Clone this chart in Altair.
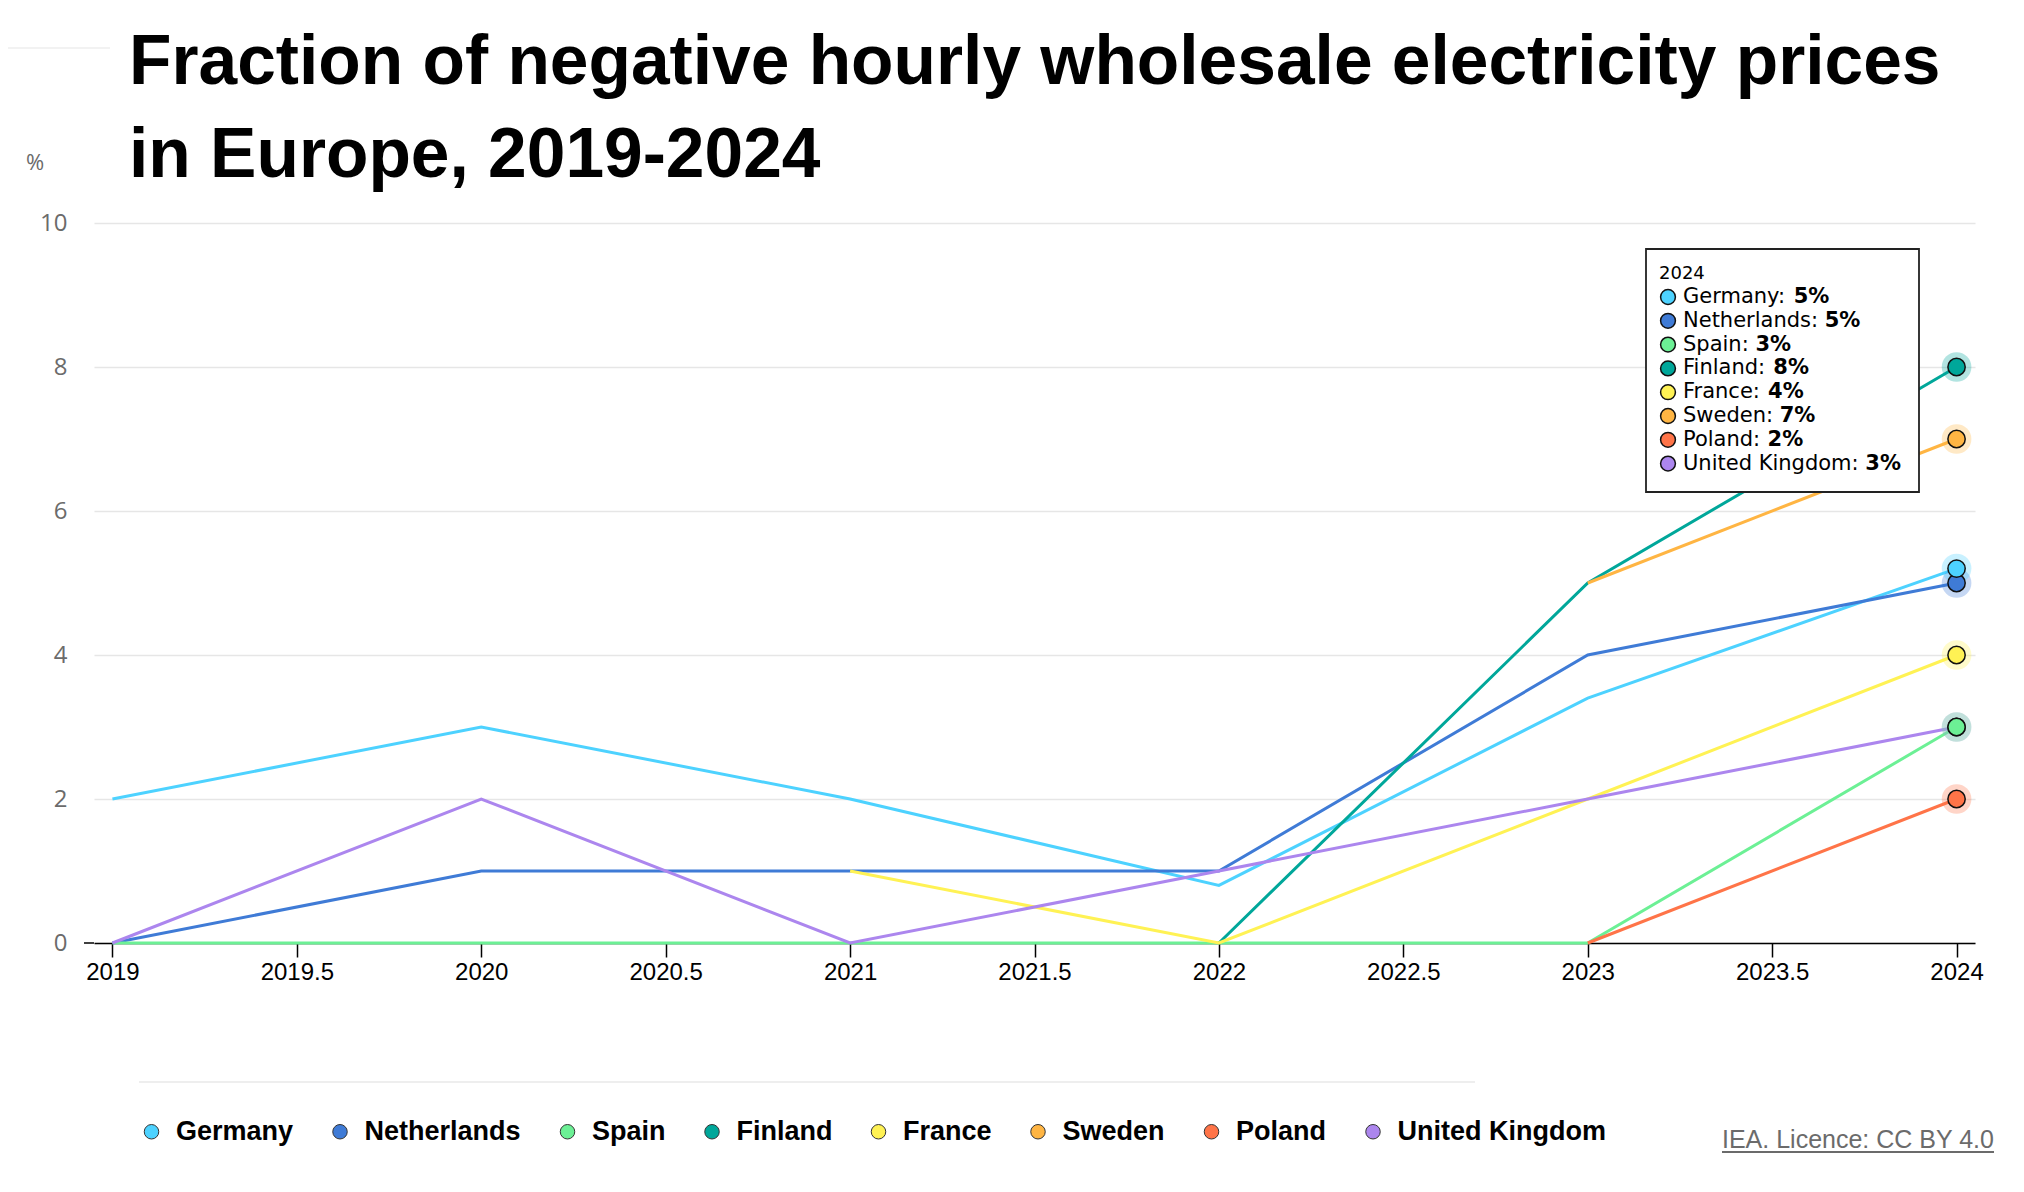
import altair as alt
import pandas as pd

# ---------------- data ----------------
YEARS = [2019, 2020, 2021, 2022, 2023, 2024]
COUNTRIES = ["Germany", "Netherlands", "Spain", "Finland", "France", "Sweden", "Poland", "United Kingdom"]
COLORS = ["#4dd2ff", "#3f7bd6", "#6cf095", "#00a79a", "#fff254", "#ffb543", "#ff7448", "#ac86ee"]

GERMANY = [2, 3, 2, 0.8, 3.4, 5.2]
NETHERLANDS = [0, 1, 1, 1, 4, 5]
SPAIN = [0, 0, 0, 0, 0, 3]
FINLAND = [None, None, None, 0, 5, 8]
FRANCE = [None, None, 1, 0, 2, 4]
SWEDEN = [None, None, None, None, 5, 7]
POLAND = [None, None, None, None, 0, 2]
UNITED_KINGDOM = [0, 2, 0, 1, 2, 3]

SERIES = [GERMANY, NETHERLANDS, SPAIN, FINLAND, FRANCE, SWEDEN, POLAND, UNITED_KINGDOM]

TITLE = ["Fraction of negative hourly wholesale electricity prices", "in Europe, 2019-2024"]
X_TICKS = [2019, 2019.5, 2020, 2020.5, 2021, 2021.5, 2022, 2022.5, 2023, 2023.5, 2024]
Y_TICKS = [0, 2, 4, 6, 8, 10]
SOURCE = "IEA. Licence: CC BY 4.0"

# ---------------- tables ----------------
rows = []
for c, vals in zip(COUNTRIES, SERIES):
    for y, v in zip(YEARS, vals):
        if v is not None:
            rows.append({"country": c, "year": y, "value": v})
df = pd.DataFrame(rows)

last = pd.DataFrame({"country": COUNTRIES, "value": [s[-1] for s in SERIES], "year": YEARS[-1]})
last_rev = last.iloc[::-1].reset_index(drop=True)

# DejaVu Sans advance widths (units / 2048) for tooltip layout
DJV = {"G": 1587, "e": 1260, "r": 842, "m": 1995, "a": 1255, "n": 1298, "y": 1212, ":": 690, " ": 651,
       "N": 1532, "t": 803, "h": 1298, "l": 569, "d": 1300, "s": 1067, "S": 1300, "p": 1300, "i": 569,
       "F": 1178, "c": 1126, "w": 1675, "P": 1235, "o": 1253, "U": 1499, "K": 1343, "g": 1300}
TIP_FS = 21
TIP_TEXT_X = 1589


def text_w(s, fs):
    return sum(DJV.get(ch, 1250) for ch in s) / 2048 * fs


tip = pd.DataFrame({
    "country": COUNTRIES,
    "idx": list(range(len(COUNTRIES))),
    "name": [c + ": " for c in COUNTRIES],
    "val": ["%d%%" % round(s[-1]) for s in SERIES],
})
tip["bx"] = [TIP_TEXT_X + text_w(n, TIP_FS) for n in tip["name"]]

one = pd.DataFrame({"t": [str(YEARS[-1])]})

# ---------------- scales ----------------
xs = alt.Scale(domain=[2018.95, 2024.05], nice=False, zero=False)
ys = alt.Scale(domain=[0, 10], nice=False)
# legend scale (fill) and drawing scale (stroke / color) kept separate so legends do not merge
fill_scale = alt.Scale(domain=COUNTRIES, range=COLORS)
draw_scale = alt.Scale(domain=COUNTRIES[::-1], range=COLORS[::-1])

x_axis = alt.Axis(values=X_TICKS, labelExpr="'' + datum.value", title=None, grid=False,
                  domainColor="#000", domainWidth=1.5, tickColor="#000", tickWidth=1.5, tickSize=14,
                  labelFont="Liberation Sans", labelFontSize=24, labelColor="#000", labelPadding=3)
y_axis = alt.Axis(values=Y_TICKS, format="d", title=None, domain=False, ticks=False, grid=True,
                  gridColor="#e6e6e6", gridWidth=1.5, labelFont="Open Sans", labelFontSize=24,
                  labelColor="#6b6b6b", labelPadding=27)

lines = alt.Chart(df).mark_line(strokeWidth=3).encode(
    x=alt.X("year:Q", scale=xs, axis=x_axis),
    y=alt.Y("value:Q", scale=ys, axis=y_axis),
    stroke=alt.Stroke("country:N", scale=draw_scale, legend=None),
    detail="country:N",
)

halo = alt.Chart(last_rev).mark_point(filled=True, opacity=0.3, size=880, strokeWidth=0).encode(
    x=alt.X("year:Q", scale=xs),
    y=alt.Y("value:Q", scale=ys),
    color=alt.Color("country:N", scale=draw_scale, legend=None),
)

markers = alt.Chart(last_rev).mark_point(filled=True, opacity=1, size=300, stroke="#111", strokeWidth=1.5).encode(
    x=alt.X("year:Q", scale=xs),
    y=alt.Y("value:Q", scale=ys),
    fill=alt.Fill("country:N", scale=fill_scale, sort=COUNTRIES,
                  legend=alt.Legend(title=None, orient="none", direction="horizontal",
                                    legendX=44, legendY=895, symbolType="circle", symbolSize=210,
                                    symbolStrokeColor="#333", symbolStrokeWidth=1, symbolOpacity=1,
                                    labelFont="Liberation Sans", labelFontSize=27, labelFontWeight="bold",
                                    labelColor="#000", labelOffset=11, columnPadding=32.5, padding=0,
                                    labelLimit=400)),
)

main = alt.layer(lines, halo, markers)

# ---------------- annotations (title, tooltip, source, rules) ----------------
title = alt.Chart(one).mark_text(align="left", baseline="alphabetic", font="Liberation Sans", fontSize=69.5,
                                 fontWeight="bold", color="#000", lineHeight=93, text=TITLE).encode(
    x=alt.value(35), y=alt.value(-139))

box = alt.Chart(one).mark_rect(fill="white", stroke="#222", strokeWidth=1.8).encode(
    x=alt.value(1552), x2=alt.value(1825), y=alt.value(26), y2=alt.value(269))

header = alt.Chart(one).mark_text(align="left", baseline="middle", font="DejaVu Sans", fontSize=18,
                                  color="#000").encode(x=alt.value(1565), y=alt.value(51), text="t:N")

ty = alt.Y("idx:Q", scale=alt.Scale(domain=[0, 7], range=[74, 74 + 23.8 * 7]), axis=None)

tip_dots = alt.Chart(tip).mark_point(filled=True, opacity=1, size=220, stroke="#111", strokeWidth=1.5).encode(
    x=alt.value(1574), y=ty, color=alt.Color("country:N", scale=draw_scale, legend=None))

tip_names = alt.Chart(tip).mark_text(align="left", baseline="middle", font="DejaVu Sans", fontSize=TIP_FS,
                                     color="#000").encode(x=alt.value(TIP_TEXT_X), y=ty, text="name:N")

tip_vals = alt.Chart(tip).mark_text(align="left", baseline="middle", font="DejaVu Sans", fontSize=TIP_FS,
                                    fontWeight="bold", color="#000").encode(
    x=alt.X("bx:Q", scale=alt.Scale(domain=[0, 2000], range=[0, 2000]), axis=None), y=ty, text="val:N")

pct = alt.Chart(one).mark_text(align="left", baseline="middle", font="Open Sans", fontSize=22,
                               color="#6b6b6b", text="%").encode(x=alt.value(-68), y=alt.value(-60))

sep = alt.Chart(one).mark_rule(color="#e8e8e8", strokeWidth=1.5).encode(
    x=alt.value(45), x2=alt.value(1381), y=alt.value(859))
topline = alt.Chart(one).mark_rule(color="#eeeeee", strokeWidth=1.5).encode(
    x=alt.value(-94), x2=alt.value(16), y=alt.value(-175))
axis_ext = alt.Chart(one).mark_rule(color="#000", strokeWidth=1.5).encode(
    x=alt.value(-10), x2=alt.value(0), y=alt.value(720))

source = alt.Chart(one).mark_text(align="left", baseline="alphabetic", font="Liberation Sans", fontSize=25,
                                  color="#6b6b6b", text=SOURCE).encode(x=alt.value(1628), y=alt.value(925))
underline = alt.Chart(one).mark_rule(color="#6b6b6b", strokeWidth=2).encode(
    x=alt.value(1628), x2=alt.value(1900), y=alt.value(929))

notes = alt.layer(title, box, header, tip_dots, tip_names, tip_vals, pct, sep, topline, axis_ext,
                  source, underline)

chart = alt.layer(main, notes).resolve_scale(x="independent", y="independent").properties(
    width=1881, height=720,
    autosize=alt.AutoSizeParams(type="none"),
    padding={"left": 86, "top": 215, "right": 40, "bottom": 235},
    background="white",
).configure_view(stroke=None)

chart.save("out.html", embed_options={"renderer": "svg", "actions": False})
